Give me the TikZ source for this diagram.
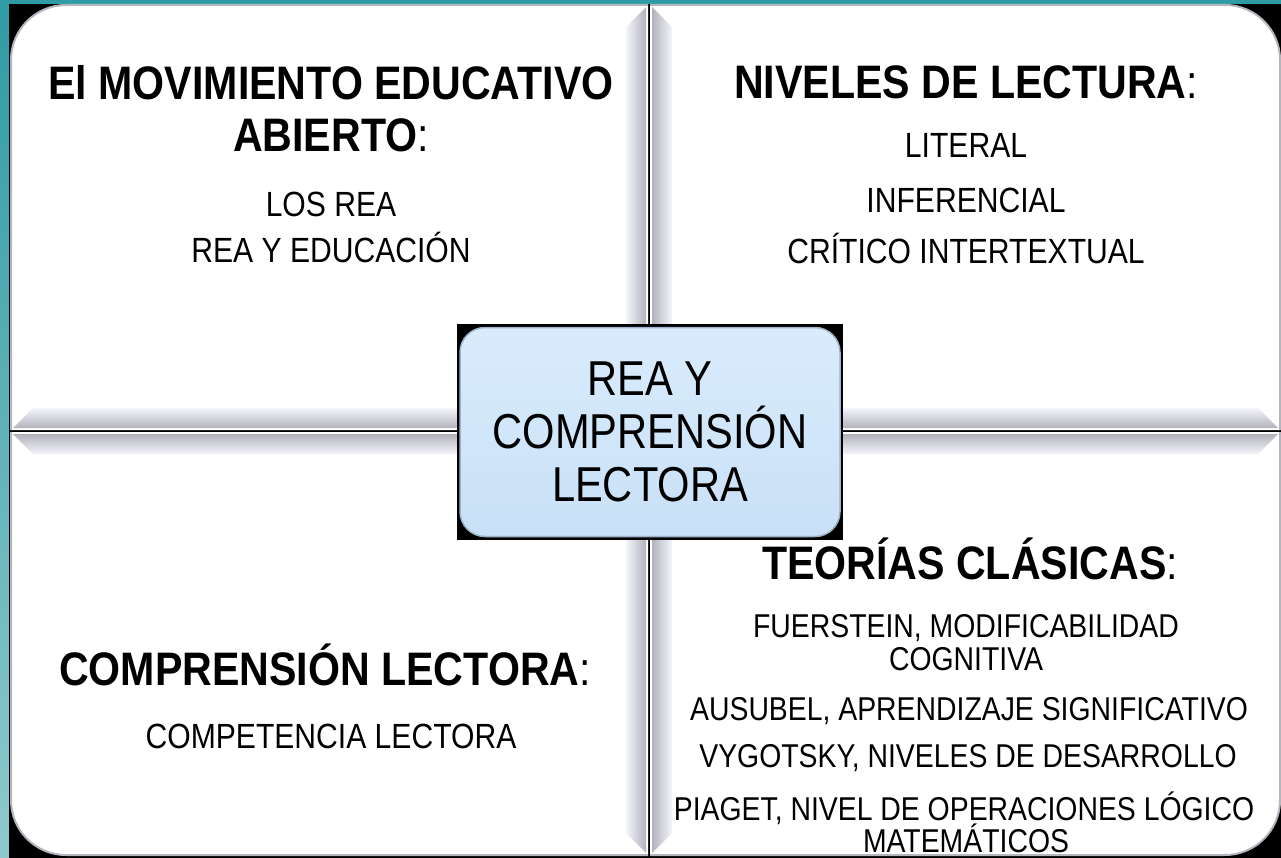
\documentclass[tikz,border=0pt]{standalone}
\usepackage{fontspec}
\setmainfont{Liberation Sans}
\newfontfamily\itemfont{Liberation Sans}[FakeStretch=0.86]
\newfontfamily\headfont{Liberation Sans}[FakeStretch=0.875]
\newfontfamily\boxfont{Liberation Sans}[FakeStretch=0.85]
\definecolor{tealA}{HTML}{2F9BA5}
\definecolor{tealB}{HTML}{8FC9CC}
\definecolor{qborder}{HTML}{B2B6BE}
\definecolor{bevdark}{HTML}{B2B2BC}
\definecolor{bevlight}{HTML}{F4F4FB}
\definecolor{boxtop}{HTML}{D9ECFD}
\definecolor{boxbot}{HTML}{C8E0F6}
\definecolor{boxline}{HTML}{9CB2C6}
\begin{document}
\begin{tikzpicture}[x=1pt,y=-1pt,
  qfill/.style={fill=white},
  qline/.style={draw=qborder,line width=2pt},
  head/.style={anchor=base,inner sep=0pt,font=\headfont\fontsize{47}{52}\selectfont},
  item/.style={anchor=base,inner sep=0pt,font=\itemfont\fontsize{35}{40}\selectfont},
  smallitem/.style={anchor=base,inner sep=0pt,font=\itemfont\fontsize{33}{38}\selectfont},
  centerbox/.style={draw=boxline,line width=1.5pt,rounded corners=25pt,
    top color=boxtop,bottom color=boxbot,minimum width=380pt,minimum height=209pt,
    align=center,inner sep=0pt,font=\boxfont\fontsize{49}{53}\selectfont}
]
\useasboundingbox (0,0) rectangle (1281,858);
\shade[top color=tealA,bottom color=tealB] (0,0) rectangle (1281,858);
\fill[black] (9,4) rectangle (1281,858);

% quadrants
\fill[qfill] (648,430) -- (11,430) -- (11,60) .. controls (11,29.6) and (35.6,5) .. (66,5) -- (648,5) -- cycle;
\draw[qline] (11,430) -- (11,60) .. controls (11,29.6) and (35.6,5) .. (66,5) -- (648,5);
\fill[qfill] (650,5) -- (1225,5) .. controls (1255.4,5) and (1280,29.6) .. (1280,60) -- (1280,430) -- (650,430) -- cycle;
\draw[qline] (650,5) -- (1225,5) .. controls (1255.4,5) and (1280,29.6) .. (1280,60) -- (1280,430);
\fill[qfill] (11,432) -- (648,432) -- (648,855) -- (66,855) .. controls (35.6,855) and (11,830.4) .. (11,800) -- cycle;
\draw[qline] (648,855) -- (66,855) .. controls (35.6,855) and (11,830.4) .. (11,800) -- (11,432);
\fill[qfill] (650,432) -- (1280,432) -- (1280,800) .. controls (1280,830.4) and (1255.4,855) .. (1225,855) -- (650,855) -- cycle;
\draw[qline] (1280,432) -- (1280,800) .. controls (1280,830.4) and (1255.4,855) .. (1225,855) -- (650,855);

% bevels TL
\shade[top color=bevlight,bottom color=bevdark] (13,428) -- (33,408) -- (626,408) -- (646,428) -- cycle;
\shade[left color=bevlight,right color=bevdark] (646,7) -- (646,428) -- (626,408) -- (626,27) -- cycle;
% bevels TR
\shade[left color=bevdark,right color=bevlight] (652,7) -- (672,27) -- (672,408) -- (652,428) -- cycle;
\shade[top color=bevlight,bottom color=bevdark] (652,428) -- (672,408) -- (1258,408) -- (1278,428) -- cycle;
% bevels BL
\shade[top color=bevdark,bottom color=bevlight] (13,434) -- (646,434) -- (626,454) -- (33,454) -- cycle;
\shade[left color=bevlight,right color=bevdark] (646,434) -- (646,853) -- (626,833) -- (626,454) -- cycle;
% bevels BR
\shade[top color=bevdark,bottom color=bevlight] (652,434) -- (1278,434) -- (1258,454) -- (672,454) -- cycle;
\shade[left color=bevdark,right color=bevlight] (652,434) -- (672,454) -- (672,833) -- (652,853) -- cycle;

% center
\fill[black] (457,324) rectangle (843,540);
\node[centerbox] (core) at (650,432) {REA Y\\COMPRENSIÓN\\LECTORA};

% TL text
\node[head] (tlh1) at (331,100) {\bfseries El MOVIMIENTO EDUCATIVO};
\node[head] (tlh2) at (331,152) {{\bfseries ABIERTO}:};
\node[item] (tl1) at (331,217) {LOS REA};
\node[item] (tl2) at (331,263) {REA Y EDUCACIÓN};
% TR text
\node[head] (trh) at (966,99) {{\bfseries NIVELES DE LECTURA}:};
\node[item] (tr1) at (966,158) {LITERAL};
\node[item] (tr2) at (966,213) {INFERENCIAL};
\node[item] (tr3) at (966,264) {CRÍTICO INTERTEXTUAL};
% BL text
\node[head] (blh) at (325,685) {{\bfseries COMPRENSIÓN LECTORA}:};
\node[item] (bl1) at (331,748) {COMPETENCIA LECTORA};
% BR text
\node[head] (brh) at (970,579) {{\bfseries TEORÍAS CLÁSICAS}:};
\node[smallitem] (br1) at (966,637) {FUERSTEIN, MODIFICABILIDAD};
\node[smallitem] (br2) at (966,670) {COGNITIVA};
\node[smallitem] (br3) at (969,720) {AUSUBEL, APRENDIZAJE SIGNIFICATIVO};
\node[smallitem] (br4) at (968,767) {VYGOTSKY, NIVELES DE DESARROLLO};
\node[smallitem] (br5) at (964,820) {PIAGET, NIVEL DE OPERACIONES LÓGICO};
\node[smallitem] (br6) at (966,852) {MATEMÁTICOS};
\end{tikzpicture}
\end{document}
